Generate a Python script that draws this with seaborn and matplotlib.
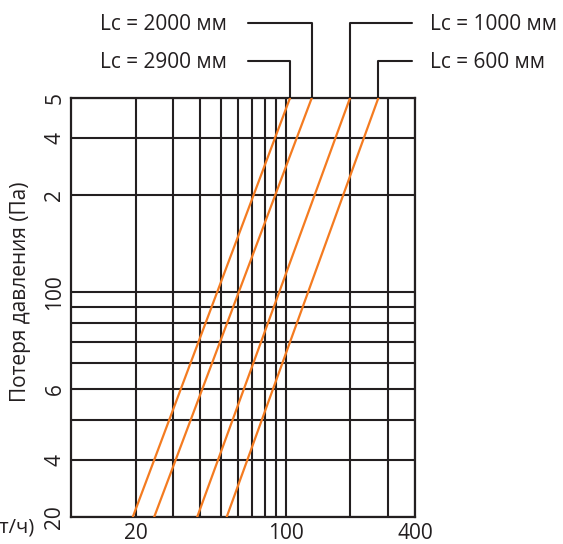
import numpy as np
import pandas as pd
import seaborn as sns
import matplotlib.pyplot as plt

# values (log-log)
pressure_ends = [20, 400]
flow_lc2900 = [19.4, 104.7]
flow_lc2000 = [24.4, 132.2]
flow_lc1000 = [38.7, 199.3]
flow_lc600 = [53.1, 270.0]

series_names = ['Lc = 2900 мм', 'Lc = 2000 мм', 'Lc = 1000 мм', 'Lc = 600 мм']
series_flows = [flow_lc2900, flow_lc2000, flow_lc1000, flow_lc600]

x_grid = [20, 30, 40, 50, 60, 70, 80, 90, 100, 200, 300, 400]
x_labels = ['20', '', '', '', '', '', '', '', '100', '', '', '400']
y_grid = [20, 30, 40, 50, 60, 70, 80, 90, 100, 200, 300, 400]
y_labels = ['20', '4', '', '6', '', '', '', '', '100', '2', '4', '5']

rows = []
for name, flows in zip(series_names, series_flows):
    for f, p in zip(flows, pressure_ends):
        rows.append({'series': name, 'flow': f, 'pressure': p})
df = pd.DataFrame(rows)

sns.set_style("white")
plt.rcParams['font.family'] = ['Open Sans', 'DejaVu Sans']

fig = plt.figure(figsize=(5.63, 5.44), dpi=100)
ax = fig.add_axes([71 / 563, 27 / 544, 344 / 563, 419 / 544])

ink = '#231f20'
orange = '#f47b20'
fs = 15

ax.set_xscale('log')
ax.set_yscale('log')
ax.set_xlim(10, 400)
ax.set_ylim(20, 400)

sns.lineplot(data=df, x='flow', y='pressure', hue='series', units='series',
             estimator=None, palette=[orange] * 4, linewidth=1.6,
             legend=False, ax=ax, zorder=3)

ax.minorticks_off()
ax.set_xticks(x_grid)
ax.set_xticklabels(x_labels, fontsize=fs, color=ink)
ax.set_yticks(y_grid)
ax.set_yticklabels(y_labels, fontsize=fs, color=ink, rotation=90, va='center')
ax.tick_params(length=0)
ax.tick_params(axis='x', pad=4)
ax.tick_params(axis='y', pad=4)
ax.grid(True, color=ink, linewidth=1.5)
for s in ax.spines.values():
    s.set_visible(True)
    s.set_color(ink)
    s.set_linewidth(1.6)
ax.set_xlabel('')
ax.set_ylabel('')

# leader lines from labels down to the top end of each curve
trans = ax.get_xaxis_transform()
leaders = [
    # (series index, leader height in axes frac, outer x of leader)
    (0, 1.0883, 67.0),
    (1, 1.1797, 67.0),
    (2, 1.1797, 386.0),
    (3, 1.0883, 386.0),
]
for idx, yl, xs in leaders:
    xt = series_flows[idx][1]
    ax.plot([xs, xt, xt], [yl, yl, 1.0], color=ink, linewidth=1.5,
            transform=trans, clip_on=False)

fig.text(227 / 563, 1 - 68.3 / 544, series_names[0], ha='right', va='baseline',
         fontsize=fs, color=ink)
fig.text(227 / 563, 1 - 30 / 544, series_names[1], ha='right', va='baseline',
         fontsize=fs, color=ink)
fig.text(430 / 563, 1 - 30 / 544, series_names[2], ha='left', va='baseline',
         fontsize=fs, color=ink)
fig.text(430 / 563, 1 - 68.3 / 544, series_names[3], ha='left', va='baseline',
         fontsize=fs, color=ink)

fig.text(21 / 563, 1 - 292 / 544, 'Потеря давления (Па)', rotation=90,
         ha='center', va='center', fontsize=15, color=ink)
fig.text(34 / 563, 1 - 533 / 544, 'Расход воздуха (т/ч)', ha='right',
         va='baseline', fontsize=14.5, color=ink)

fig.savefig('out.png', dpi=100)
plt.close(fig)
